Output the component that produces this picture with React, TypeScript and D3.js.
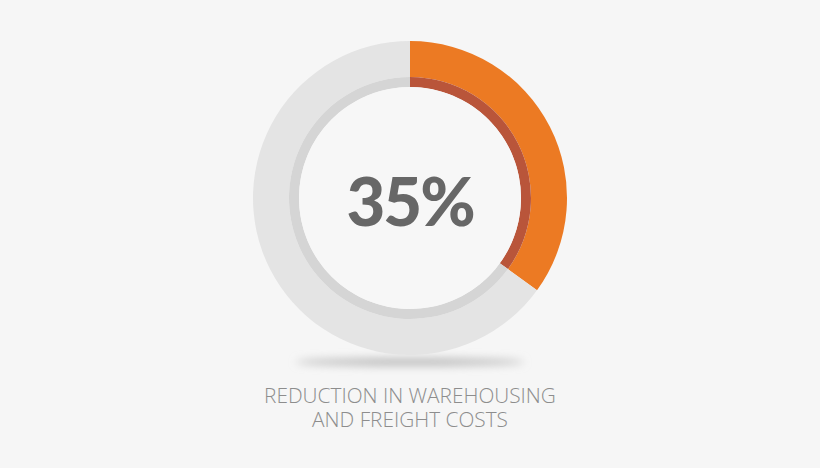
import { useEffect, useRef } from 'react'
import * as d3 from 'd3'

// chart values
const percentValue = [35]
const remainder = [65]
const captionLines = ['REDUCTION IN WAREHOUSING', 'AND FREIGHT COSTS']

const outerColors = ['#ec7a23', '#e4e4e4']
const innerColors = ['#b9553a', '#d5d5d5']

const WIDTH = 820
const HEIGHT = 468

export default function App() {
  const svgRef = useRef<SVGSVGElement>(null)

  useEffect(() => {
    if (!svgRef.current) return
    const svg = d3.select(svgRef.current)
    svg.selectAll('*').remove()

    const cx = 410
    const cy = 198
    const outerR = 157
    const midR = 121
    const innerR = 111

    svg.append('rect')
      .attr('width', WIDTH)
      .attr('height', HEIGHT)
      .attr('fill', '#f6f6f6')

    // soft shadow below the ring
    const defs = svg.append('defs')
    defs.append('filter')
      .attr('id', 'blur')
      .attr('x', '-20%').attr('y', '-200%')
      .attr('width', '140%').attr('height', '500%')
      .append('feGaussianBlur')
      .attr('stdDeviation', 4)

    svg.append('ellipse')
      .attr('cx', cx)
      .attr('cy', 362)
      .attr('rx', 114)
      .attr('ry', 4)
      .attr('fill', '#bdbdbd')
      .attr('filter', 'url(#blur)')

    const data = [percentValue[0], remainder[0]]
    const pie = d3.pie<number>().sort(null).value(d => d)
    const arcs = pie(data)

    const g = svg.append('g').attr('transform', `translate(${cx},${cy})`)

    const outerArc = d3.arc<d3.PieArcDatum<number>>()
      .innerRadius(midR)
      .outerRadius(outerR)
    const innerArc = d3.arc<d3.PieArcDatum<number>>()
      .innerRadius(innerR)
      .outerRadius(midR)

    g.selectAll('path.outer')
      .data(arcs)
      .enter()
      .append('path')
      .attr('class', 'outer')
      .attr('d', outerArc)
      .attr('fill', (_, i) => outerColors[i])

    g.selectAll('path.inner')
      .data(arcs)
      .enter()
      .append('path')
      .attr('class', 'inner')
      .attr('d', innerArc)
      .attr('fill', (_, i) => innerColors[i])

    g.append('circle')
      .attr('r', innerR)
      .attr('fill', '#f7f7f7')

    svg.append('text')
      .attr('x', cx)
      .attr('y', 226)
      .attr('text-anchor', 'middle')
      .attr('font-family', 'Lato, sans-serif')
      .attr('font-weight', 900)
      .attr('font-size', 67)
      .attr('letter-spacing', -2)
      .attr('fill', '#676767')
      .text(`${percentValue[0]}%`)

    captionLines.forEach((line, i) => {
      svg.append('text')
        .attr('x', cx)
        .attr('y', 403 + i * 24)
        .attr('text-anchor', 'middle')
        .attr('font-family', '"Open Sans", sans-serif')
        .attr('font-weight', 300)
        .attr('font-size', 20.8)
        .attr('fill', '#8d8d8d')
        .text(line)
    })
  }, [])

  return (
    <div style={{ position: 'fixed', left: 0, top: 0, width: WIDTH, height: HEIGHT }}>
      <svg ref={svgRef} width={WIDTH} height={HEIGHT} />
    </div>
  )
}
